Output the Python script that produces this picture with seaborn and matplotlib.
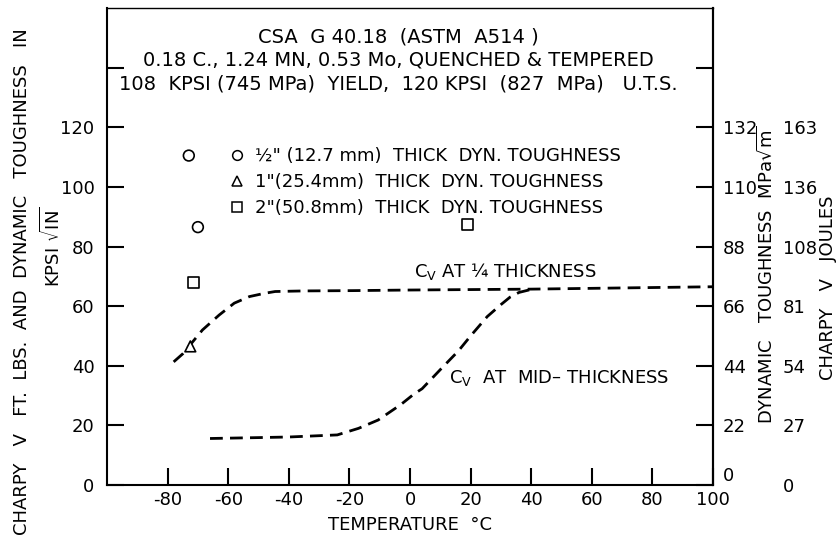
import matplotlib
matplotlib.use("Agg")
import matplotlib.pyplot as plt
from matplotlib.lines import Line2D
import pandas as pd
import seaborn as sns

# ---- data -------------------------------------------------------------
# Charpy V energy (ft-lb) at quarter thickness vs temperature (deg C)
quarter_temp = [-78, -75, -72.8, -68.5, -63, -58, -53, -48, -44.5, -35, -19, 0, 13, 40, 70, 100]
quarter_cv = [41.3, 44.0, 46.7, 52.0, 57.0, 61.0, 63.2, 64.3, 64.9, 65.1, 65.2, 65.4, 65.5, 65.7, 66.1, 66.5]

# Charpy V energy (ft-lb) at mid thickness vs temperature (deg C)
mid_temp = [-66, -50, -40, -24, -17, -10.5, -3, 1.3, 4, 10, 16, 20, 25.5, 30, 33, 36, 40]
mid_cv = [15.6, 15.9, 16.1, 16.8, 19.0, 21.8, 27.0, 30.5, 32.3, 38.7, 45.0, 50.0, 56.5, 60.5, 63.0, 64.6, 65.6]

# Dynamic toughness (ksi sqrt(in)) by plate thickness
thickness_labels = ['1/2"', '1"', '2"']
dyn_thickness = ['1/2"', '1/2"', '1"', '2"', '2"']
dyn_temp = [-73, -70, -72.5, -71.5, 19]
dyn_toughness = [110.5, 86.5, 46.5, 68, 87.5]
thickness_markers = {'1/2"': "o", '1"': "^", '2"': "s"}

legend_labels = [
    '\u00bd" (12.7 mm)  THICK  DYN. TOUGHNESS',
    '1"(25.4mm)  THICK  DYN. TOUGHNESS',
    '2"(50.8mm)  THICK  DYN. TOUGHNESS',
]

x_ticks = [-80, -60, -40, -20, 0, 20, 40, 60, 80, 100]
y_ticks = [0, 20, 40, 60, 80, 100, 120, 140]
y_tick_labels = ["0", "20", "40", "60", "80", "100", "120", ""]
mpa_tick_labels = ["0", "22", "44", "66", "88", "110", "132", ""]
joule_tick_labels = ["0", "27", "54", "81", "108", "136", "163", ""]

title_lines = [
    "CSA  G 40.18  (ASTM  A514 )",
    "0.18 C., 1.24 MN, 0.53 Mo, QUENCHED & TEMPERED",
    "108  KPSI (745 MPa)  YIELD,  120 KPSI  (827  MPa)   U.T.S.",
]

# ---- style ------------------------------------------------------------
sns.set_theme(style="ticks")
plt.rcParams["font.family"] = ["DejaVu Sans"]
plt.rcParams["mathtext.fontset"] = "dejavusans"

W, H = 838, 538
fig = plt.figure(figsize=(W / 100, H / 100), dpi=100)
fig.patch.set_facecolor("white")


def fx(px):
    return px / W


def fy(py):
    return 1 - py / H


ax = fig.add_axes([fx(107), fy(485), fx(713 - 107), (485 - 8) / H])
ax.set_facecolor("white")

curves = pd.DataFrame({
    "temp": quarter_temp + mid_temp,
    "cv": quarter_cv + mid_cv,
    "loc": ["quarter"] * len(quarter_temp) + ["mid"] * len(mid_temp),
})
dash = (0, (4.6, 2.6))
for loc in ["quarter", "mid"]:
    sub = curves[curves["loc"] == loc]
    sns.lineplot(data=sub, x="temp", y="cv", ax=ax, color="black",
                 linewidth=2.0, linestyle=dash, sort=False, estimator=None)

points = pd.DataFrame({"temp": dyn_temp, "kic": dyn_toughness, "thick": dyn_thickness})
sns.scatterplot(data=points, x="temp", y="kic", style="thick", markers=thickness_markers,
                style_order=thickness_labels, color="black", s=60, linewidth=1.2,
                ax=ax, legend=False, zorder=4)
pts = ax.collections[-1]
pts.set_facecolor("white")
pts.set_edgecolor("black")

ax.set_xlim(-100, 100)
ax.set_ylim(0, 160)
ax.set_xticks(x_ticks)
ax.set_xticklabels([str(t) for t in x_ticks])
ax.set_yticks(y_ticks)
ax.set_yticklabels(y_tick_labels)
ax.set_xlabel("")
ax.set_ylabel("")
for side in ["left", "bottom", "top", "right"]:
    ax.spines[side].set_visible(True)
    ax.spines[side].set_color("black")
    ax.spines[side].set_linewidth(1.5)
ax.spines["top"].set_linewidth(1.0)
ax.tick_params(axis="x", direction="in", length=12, width=1.5, pad=4,
               labelsize=13, colors="black", top=False)
ax.tick_params(axis="y", direction="in", length=12, width=1.5, pad=9,
               labelsize=13, colors="black", right=False)

# right axis: dynamic toughness in MPa sqrt(m)
ax2 = ax.twinx()
ax2.set_ylim(ax.get_ylim())
ax2.set_yticks(y_ticks)
ax2.set_yticklabels(mpa_tick_labels)
ax2.tick_params(axis="y", direction="in", length=12, width=1.5, pad=7,
                labelsize=13, colors="black")
for side in ["left", "bottom", "top"]:
    ax2.spines[side].set_visible(False)
ax2.spines["right"].set_linewidth(1.5)
ax2.spines["right"].set_color("black")
# lift the bottom label a little so it sits clear of the "100" below it
ax2.get_yticklabels()[0].set_verticalalignment("bottom")

# outer axis: Charpy V in joules
ax3 = ax.twinx()
ax3.set_ylim(ax.get_ylim())
ax3.set_yticks(y_ticks)
ax3.set_yticklabels(joule_tick_labels)
ax3.spines["right"].set_position(("axes", (783 - 107) / (713 - 107)))
for side in ["left", "bottom", "top", "right"]:
    ax3.spines[side].set_visible(False)
ax3.tick_params(axis="y", length=0, pad=0, labelsize=13, colors="black")

# heading inside the plot
for text, py in zip(title_lines, [37, 60, 84]):
    fig.text(fx(398), fy(py), text, ha="center", va="center", fontsize=14, color="black")

# legend of specimen thickness
handles = [Line2D([], [], linestyle="", marker=thickness_markers[k], markersize=7,
                  markerfacecolor="white", markeredgecolor="black", markeredgewidth=1.1)
           for k in thickness_labels]
leg = ax.legend(handles, legend_labels, loc="upper left",
                bbox_to_anchor=(fx(228), fy(147)), bbox_transform=fig.transFigure,
                frameon=False, fontsize=13, handlelength=1.0, handletextpad=0.5,
                labelspacing=0.45, borderpad=0, borderaxespad=0)
for t in leg.get_texts():
    t.set_color("black")

# curve labels
ax.text(1.3, 71.5, "C$_\\mathrm{V}$ AT \u00bc THICKNESS", ha="left", va="center",
        fontsize=13, color="black")
ax.text(12.8, 36, "C$_\\mathrm{V}$  AT  MID\u2013 THICKNESS", ha="left", va="center",
        fontsize=13, color="black")

# axis titles
fig.text(fx(410), fy(525), "TEMPERATURE  \u00b0C", ha="center", va="center",
         fontsize=13, color="black")
fig.text(fx(22), fy(282), "CHARPY   V   FT.  LBS.  AND  DYNAMIC   TOUGHNESS   IN",
         rotation=90, ha="center", va="center", fontsize=13, color="black")
fig.text(fx(52), fy(247), "KPSI $\\sqrt{\\mathrm{IN}}$", rotation=90,
         ha="center", va="center", fontsize=13, color="black")
fig.text(fx(766), fy(275), "DYNAMIC   TOUGHNESS  MPa$\\sqrt{\\mathrm{m}}$", rotation=90,
         ha="center", va="center", fontsize=13, color="black")
fig.text(fx(828), fy(288), "CHARPY   V   JOULES", rotation=90,
         ha="center", va="center", fontsize=13, color="black")

fig.savefig("out.png", dpi=100, facecolor="white")
